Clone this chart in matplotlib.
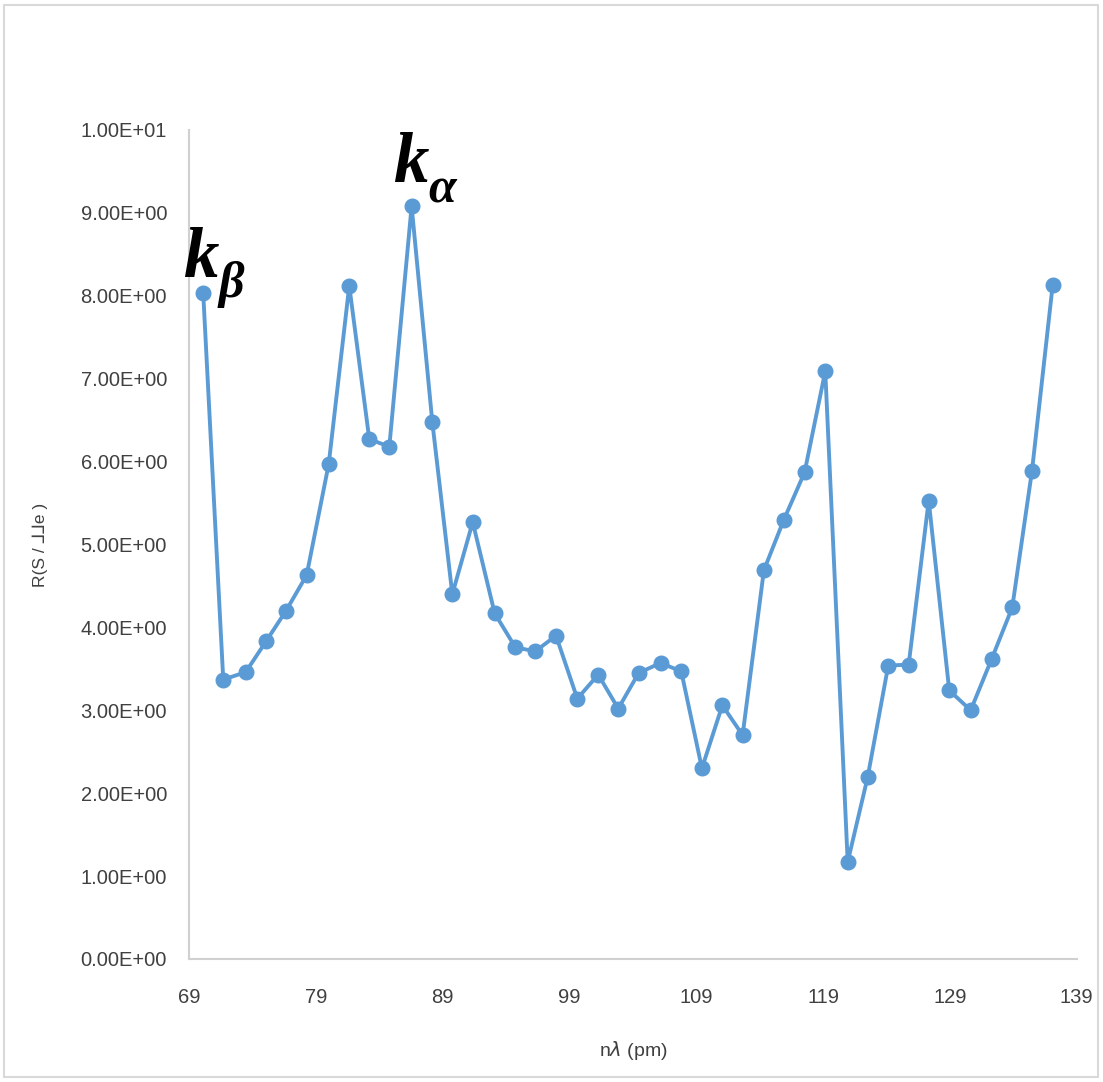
import matplotlib
matplotlib.use("Agg")
import matplotlib.pyplot as plt
from matplotlib.patches import Rectangle
from matplotlib.ticker import FuncFormatter, FixedLocator

# ---- data ----
wavelength = [70.10, 71.68, 73.45, 75.05, 76.63, 78.26, 80.00, 81.62, 83.20, 84.78,
              86.54, 88.17, 89.75, 91.36, 93.09, 94.72, 96.29, 97.93, 99.61, 101.26,
              102.84, 104.45, 106.18, 107.81, 109.44, 111.05, 112.65, 114.33, 115.91, 117.54,
              119.17, 120.94, 122.51, 124.14, 125.75, 127.33, 128.95, 130.64, 132.30, 133.92,
              135.48, 137.11]
rate = [8.03, 3.37, 3.46, 3.83, 4.20, 4.63, 5.97, 8.12, 6.27, 6.18,
        9.08, 6.48, 4.40, 5.27, 4.17, 3.76, 3.71, 3.90, 3.14, 3.43,
        3.02, 3.45, 3.57, 3.47, 2.30, 3.06, 2.70, 4.69, 5.30, 5.87,
        7.09, 1.17, 2.19, 3.54, 3.55, 5.53, 3.24, 3.00, 3.62, 4.24,
        5.89, 8.13]
x_ticks = [69, 79, 89, 99, 109, 119, 129, 139]
y_ticks = [0, 1, 2, 3, 4, 5, 6, 7, 8, 9, 10]
peak_labels = [("k", "\u03b2", 0), ("k", "\u03b1", 10)]  # (main, subscript, point index)

line_color = "#5B9BD5"
text_color = "#404040"
spine_color = "#D0D0D0"

plt.rcParams["font.family"] = ["Liberation Sans", "DejaVu Sans"]

fig = plt.figure(figsize=(11.03, 10.82), dpi=100)
ax = fig.add_axes([0.1716, 0.1137, 0.8045, 0.7662])

ax.plot(wavelength, rate, color=line_color, linewidth=2.8, marker="o",
        markersize=10.5, markerfacecolor=line_color, markeredgecolor=line_color,
        solid_joinstyle="round", zorder=3)

ax.set_xlim(69, 139)
ax.set_ylim(0, 10)
ax.xaxis.set_major_locator(FixedLocator(x_ticks))
ax.yaxis.set_major_locator(FixedLocator(y_ticks))
ax.yaxis.set_major_formatter(FuncFormatter(lambda v, p: f"{v:.2E}"))
ax.tick_params(axis="both", length=0, labelsize=14.5, labelcolor=text_color)
ax.tick_params(axis="x", pad=21)
ax.tick_params(axis="y", pad=16)

for s in ["top", "right"]:
    ax.spines[s].set_visible(False)
for s in ["left", "bottom"]:
    ax.spines[s].set_color(spine_color)
    ax.spines[s].set_linewidth(1.5)

ax.set_xlabel("n$\\lambda$ (pm)", fontsize=14, color=text_color)
ax.xaxis.set_label_coords(0.5, -0.110)
ax.xaxis.label.set_va("center")
ax.set_ylabel("R(S / \u2143\u2143e )", fontsize=12.5, color=text_color)
ax.yaxis.set_label_coords(-0.168, 0.5)
ax.yaxis.label.set_va("center")

# peak annotations
offsets = {0: ((-20, 16), (15, -4)), 10: ((-19, 24), (17, 4))}
for main, sub, idx in peak_labels:
    (mdx, mdy), (sdx, sdy) = offsets[idx]
    pt = (wavelength[idx], rate[idx])
    ax.annotate(main, xy=pt, xytext=(mdx, mdy), textcoords="offset pixels",
                ha="left", va="baseline", fontsize=51, fontweight="bold",
                fontstyle="italic", family=["Liberation Serif", "DejaVu Serif"],
                color="black", annotation_clip=False, zorder=4)
    ax.annotate(sub, xy=pt, xytext=(sdx, sdy), textcoords="offset pixels",
                ha="left", va="baseline", fontsize=36, fontweight="bold",
                fontstyle="italic", family=["Liberation Serif", "DejaVu Serif"],
                color="black", annotation_clip=False, zorder=4)

# figure border
fig.patches.append(Rectangle((4 / 1103, 5 / 1082), 1094 / 1103, 1072 / 1082,
                             transform=fig.transFigure, fill=False,
                             edgecolor="#D9D9D9", linewidth=1.5))

fig.savefig("out.png", dpi=100, facecolor="white")
